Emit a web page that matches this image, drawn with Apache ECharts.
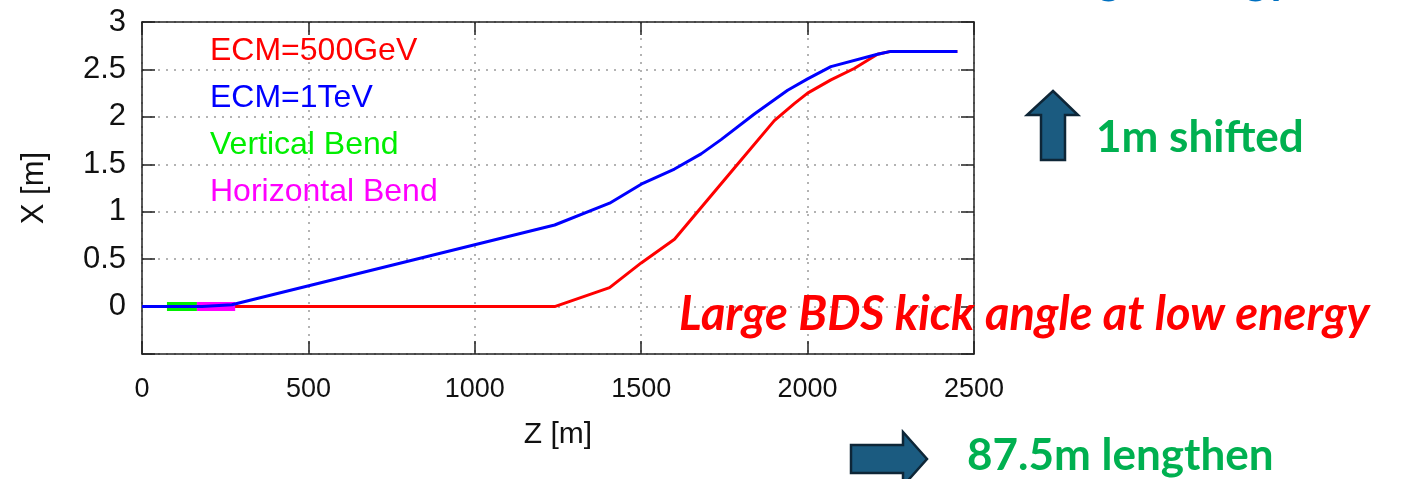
<!DOCTYPE html>
<html>
<head>
<meta charset="utf-8">
<script src="https://cdn.jsdelivr.net/npm/echarts@6/dist/echarts.min.js"></script>
<style>
html,body{margin:0;padding:0;background:#fff;}
#c{width:1406px;height:479px;}
</style>
</head>
<body>
<div id="c"></div>
<script>
// ---- data ----
var zRed   = [0, 1240, 1405, 1500, 1600, 1780, 1900, 1960, 2000, 2070, 2140, 2210, 2250, 2450];
var xRed   = [0, 0,    0.20, 0.46, 0.71, 1.46, 1.96, 2.14, 2.25, 2.39, 2.51, 2.66, 2.69, 2.69];
var zBlue  = [0, 180, 270,  1240, 1405, 1505, 1600, 1680, 1740, 1840, 1940, 2000, 2070, 2210, 2250, 2450];
var xBlue  = [0, 0,   0.02, 0.86, 1.09, 1.30, 1.45, 1.61, 1.76, 2.03, 2.28, 2.40, 2.53, 2.66, 2.69, 2.69];
var zVert  = [75, 165];
var xVert  = [0, 0];
var zHorz  = [165, 280];
var xHorz  = [0, 0];
var seriesNames = ['ECM=500GeV', 'ECM=1TeV', 'Vertical Bend', 'Horizontal Bend'];
var seriesColors = ['#ff0000', '#0000ff', '#00ee00', '#ff00ff'];
var xTicks = [0, 500, 1000, 1500, 2000, 2500];
var yTicks = [-0.5, 0, 0.5, 1, 1.5, 2, 2.5, 3];

function pairs(a, b) { return a.map(function (v, i) { return [v, b[i]]; }); }

var chart = echarts.init(document.getElementById('c'), null, {renderer: 'canvas'});
var FONT = 'Liberation Sans, Arial, Helvetica, sans-serif';
var ANN = 'Lato, Open Sans, sans-serif';

var axisCommon = {
  type: 'value',
  axisLine: {show: true, onZero: false, lineStyle: {color: '#222', width: 1.5}},
  axisTick: {show: true, inside: true, length: 13, lineStyle: {color: '#222', width: 1.5}}
};

var option = {
  animation: false,
  backgroundColor: '#fff',
  grid: {left: 142, right: 432, top: 22, bottom: 125, containLabel: false},
  legend: {
    orient: 'vertical', left: 200, top: 28, itemGap: 11, itemWidth: 0, itemHeight: 0,
    selectedMode: false,
    data: seriesNames.map(function (n, i) {
      return {name: n, icon: 'none', textStyle: {color: seriesColors[i], fontSize: 32, fontFamily: FONT, lineHeight: 36}};
    })
  },
  xAxis: [
    Object.assign({}, axisCommon, {
      position: 'bottom', min: xTicks[0], max: xTicks[xTicks.length - 1], interval: 500,
      axisLabel: {fontSize: 27, fontFamily: FONT, color: '#111', margin: 22,
        formatter: function (v) { return String(v); }},
      splitLine: {show: true, lineStyle: {color: '#9a9a9a', type: [2, 6], width: 1.5}},
      name: 'Z [m]', nameLocation: 'middle', nameGap: 66,
      nameTextStyle: {fontSize: 30, fontFamily: FONT, color: '#111'}
    }),
    Object.assign({}, axisCommon, {
      position: 'top', min: xTicks[0], max: xTicks[xTicks.length - 1], interval: 500,
      axisLabel: {show: false}, splitLine: {show: false}
    })
  ],
  yAxis: [
    Object.assign({}, axisCommon, {
      position: 'left', min: yTicks[0], max: yTicks[yTicks.length - 1], interval: 0.5,
      axisLabel: {fontSize: 31, fontFamily: FONT, color: '#111', margin: 16,
        formatter: function (v) { return v < 0 ? '' : String(v); }},
      splitLine: {show: true, lineStyle: {color: '#9a9a9a', type: [2, 6], width: 1.5}},
      name: 'X [m]', nameLocation: 'middle', nameGap: 92, nameRotate: 90,
      nameTextStyle: {fontSize: 31, fontFamily: FONT, color: '#111'}
    }),
    Object.assign({}, axisCommon, {
      position: 'right', min: yTicks[0], max: yTicks[yTicks.length - 1], interval: 0.5,
      axisLabel: {show: false}, splitLine: {show: false}
    })
  ],
  series: [
    {name: seriesNames[0], type: 'line', data: pairs(zRed, xRed), showSymbol: false, symbol: 'none',
      lineStyle: {color: seriesColors[0], width: 3}, itemStyle: {color: seriesColors[0]}, z: 2},
    {name: seriesNames[2], type: 'line', data: pairs(zVert, xVert), showSymbol: false, symbol: 'none',
      lineStyle: {color: seriesColors[2], width: 9}, itemStyle: {color: seriesColors[2]}, z: 3},
    {name: seriesNames[3], type: 'line', data: pairs(zHorz, xHorz), showSymbol: false, symbol: 'none',
      lineStyle: {color: seriesColors[3], width: 9}, itemStyle: {color: seriesColors[3]}, z: 4},
    {name: seriesNames[1], type: 'line', data: pairs(zBlue, xBlue), showSymbol: false, symbol: 'none',
      lineStyle: {color: seriesColors[1], width: 3}, itemStyle: {color: seriesColors[1]}, z: 5}
  ],
  graphic: [
    // text partly hidden at the top edge of the slide
    {type: 'text', z: 1, right: 112, top: -46,
      style: {text: 'Small BDS kick angle at high energy', fill: '#0070c0',
        font: 'italic bold 47px ' + ANN}},
    {type: 'rect', z: 2, shape: {x: 0, y: 0, width: 1000, height: 8}, style: {fill: '#fff'}},
    // up arrow
    {type: 'polygon', z: 10,
      shape: {points: [[1053, 91], [1078, 115], [1065, 115], [1065, 160], [1041, 160], [1041, 115], [1027, 115]]},
      style: {fill: '#1b5b80', stroke: '#0e2637', lineWidth: 2.5}},
    // right arrow
    {type: 'polygon', z: 10,
      shape: {points: [[851, 445], [903, 445], [903, 432], [927, 459], [903, 486], [903, 473], [851, 473]]},
      style: {fill: '#1b5b80', stroke: '#0e2637', lineWidth: 2.5}},
    {type: 'text', z: 10, left: 1096, top: 116,
      style: {text: '1m shifted', fill: '#00b050', font: 'bold 44px ' + ANN}},
    {type: 'text', z: 10, left: 967, top: 434,
      style: {text: '87.5m lengthen', fill: '#00b050', font: 'bold 44px ' + ANN}},
    {type: 'text', z: 10, left: 679, top: 291,
      style: {text: 'Large BDS kick angle at low energy', fill: '#ff0000', font: 'italic bold 47px ' + ANN}}
  ]
};
chart.setOption(option);
</script>
</body>
</html>
